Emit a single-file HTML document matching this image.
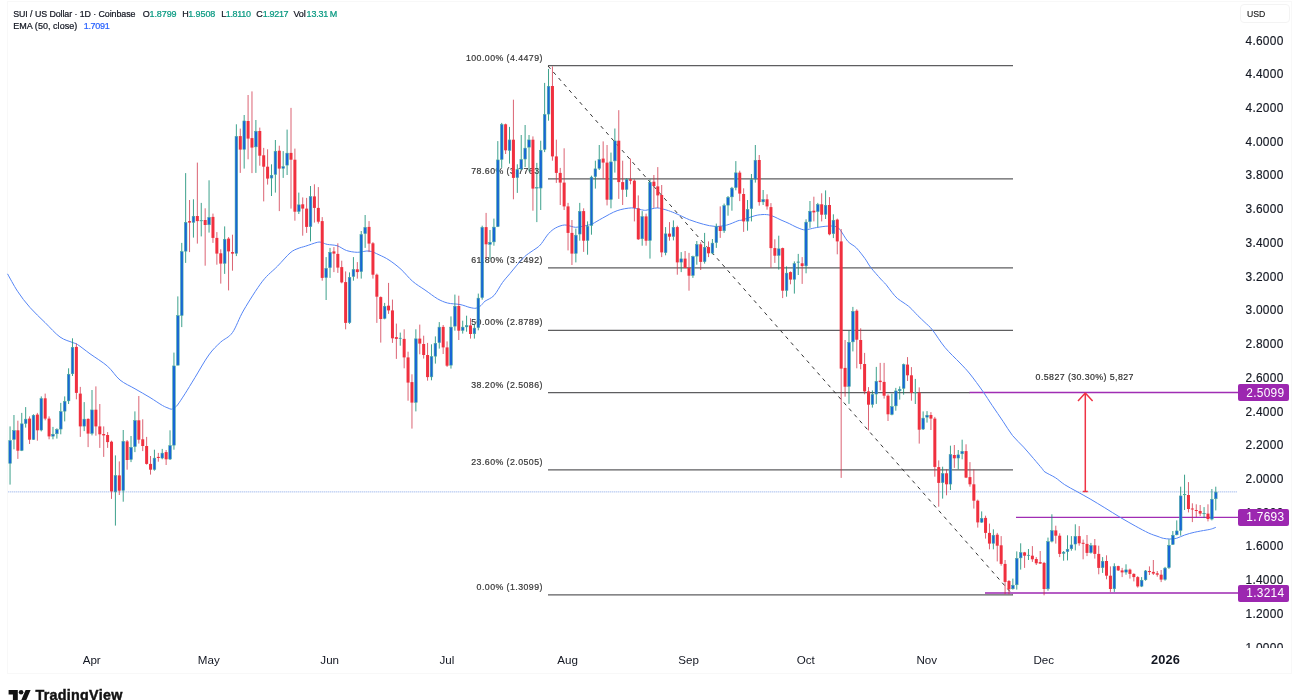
<!DOCTYPE html><html><head><meta charset="utf-8"><title>SUI / US Dollar</title>
<style>
html,body{margin:0;padding:0;background:#fff;}
body{width:1300px;height:700px;overflow:hidden;position:relative;font-family:"Liberation Sans",sans-serif;color:#131722;}
.t{position:absolute;white-space:nowrap;line-height:1;}
.frame{position:absolute;left:7px;top:1px;width:1285px;height:673px;border:1px solid #f8f8f8;box-sizing:border-box;}
.pl{position:absolute;left:1245.5px;width:38px;font-size:11.9px;line-height:14px;height:14px;text-align:left;color:#131722;white-space:nowrap;letter-spacing:0.28px;-webkit-text-stroke:0.15px #131722;}
.axis{position:absolute;left:1230px;top:2px;width:62px;height:645.6px;overflow:hidden;}
.tl{position:absolute;top:653.3px;font-size:11.6px;line-height:14px;transform:translateX(-50%);white-space:nowrap;color:#131722;}
.box{position:absolute;left:1238px;width:51px;height:17px;background:#9c27b0;border-radius:2px;color:#fff;font-size:11.9px;line-height:17px;white-space:nowrap;}
.box span{position:absolute;left:8.3px;top:0.5px;letter-spacing:0.28px;}
.hd{position:absolute;font-size:9px;line-height:10px;white-space:nowrap;color:#131722;-webkit-text-stroke:0.22px currentColor;}
.g{color:#089981;} .b{color:#2962ff;}
.fl{position:absolute;letter-spacing:0.44px;font-size:8.8px;line-height:10px;white-space:nowrap;color:#383838;-webkit-text-stroke:0.2px currentColor;}
svg{position:absolute;left:0;top:0;}
.layer{position:absolute;left:0;top:0;width:1300px;height:700px;will-change:transform;}
</style></head><body>
<div class="layer">
<div class="frame"></div>
<div class="hd " style="left:13.2px;top:8.55px;letter-spacing:-0.07px;font-size:8.85px">SUI / US Dollar &middot; 1D &middot; Coinbase</div>
<div class="hd " style="left:142.7px;top:8.55px;letter-spacing:0px">O</div>
<div class="hd g" style="left:149.6px;top:8.55px;letter-spacing:-0.12px">1.8799</div>
<div class="hd " style="left:182.3px;top:8.55px;letter-spacing:0px">H</div>
<div class="hd g" style="left:188.2px;top:8.55px;letter-spacing:-0.08px">1.9508</div>
<div class="hd " style="left:221.3px;top:8.55px;letter-spacing:0px">L</div>
<div class="hd g" style="left:225.8px;top:8.55px;letter-spacing:-0.35px">1.8110</div>
<div class="hd " style="left:256.3px;top:8.55px;letter-spacing:0px">C</div>
<div class="hd g" style="left:262.8px;top:8.55px;letter-spacing:-0.35px">1.9217</div>
<div class="hd " style="left:293.5px;top:8.55px;letter-spacing:-0.15px">Vol</div>
<div class="hd g" style="left:306.6px;top:8.55px;letter-spacing:-0.2px">13.31&#8201;M</div>
<div class="hd " style="left:13.2px;top:21.3px;letter-spacing:0.04px">EMA (50, close)</div>
<div class="hd b" style="left:83.7px;top:21.3px;letter-spacing:-0.3px">1.7091</div>
<div class="fl" style="right:757.1px;top:52.79px">100.00% (4.4479)</div>
<div class="fl" style="right:757.1px;top:166.02px">78.60% (3.7763)</div>
<div class="fl" style="right:757.1px;top:254.88px">61.80% (3.2492)</div>
<div class="fl" style="right:757.1px;top:317.31px">50.00% (2.8789)</div>
<div class="fl" style="right:757.1px;top:379.74px">38.20% (2.5086)</div>
<div class="fl" style="right:757.1px;top:456.97px">23.60% (2.0505)</div>
<div class="fl" style="right:757.1px;top:581.83px">0.00% (1.3099)</div>
</div>
<svg width="1300" height="700" viewBox="0 0 1300 700">
<line x1="548" y1="65.74" x2="1013" y2="65.74" stroke="#5e5e60" stroke-width="1.25"/>
<line x1="548" y1="178.97" x2="1013" y2="178.97" stroke="#5e5e60" stroke-width="1.25"/>
<line x1="548" y1="267.83" x2="1013" y2="267.83" stroke="#5e5e60" stroke-width="1.25"/>
<line x1="548" y1="330.26" x2="1013" y2="330.26" stroke="#5e5e60" stroke-width="1.25"/>
<line x1="548" y1="392.69" x2="970" y2="392.69" stroke="#5e5e60" stroke-width="1.25"/>
<line x1="548" y1="469.92" x2="1013" y2="469.92" stroke="#5e5e60" stroke-width="1.25"/>
<line x1="548" y1="594.78" x2="1013" y2="594.78" stroke="#5e5e60" stroke-width="1.25"/>
<line x1="548" y1="65.99" x2="1013" y2="595.03" stroke="#333" stroke-width="1" stroke-dasharray="3.7 4.3"/>
<line x1="8" y1="491.88" x2="1237" y2="491.88" stroke="#88a8ea" stroke-opacity="0.3" stroke-width="1"/>
<line x1="8" y1="491.88" x2="1237" y2="491.88" stroke="#88a8ea" stroke-opacity="0.5" stroke-width="1" stroke-dasharray="1 1"/>
<line x1="969.6" y1="392.52" x2="1238" y2="392.52" stroke="#a02db4" stroke-width="1.3"/>
<line x1="1016" y1="517.38" x2="1238" y2="517.38" stroke="#a02db4" stroke-width="1.4"/>
<line x1="985" y1="592.99" x2="1238" y2="592.99" stroke="#9c27b0" stroke-opacity="0.75" stroke-width="2.1"/>
<path d="M1085.3 491.6V393.119959M1078.0 400.91995899999995L1085.3 392.91995899999995L1092.6 400.91995899999995M1082.8 491.6H1087.8" stroke="#ee3344" stroke-width="1.5" fill="none" stroke-linejoin="bevel"/>
<path d="M7.5 273.8C9.2 276.7 13.8 285.6 17.5 291.2C21.2 296.9 25.4 302.3 30.0 307.5C34.6 312.7 40.0 317.6 45.0 322.5C50.0 327.4 55.4 333.7 60.0 337.0C64.6 340.3 69.6 341.2 72.5 342.5C75.4 343.8 74.6 342.6 77.5 344.5C80.4 346.4 85.0 350.1 90.0 353.8C95.0 357.4 102.5 361.9 107.5 366.2C112.5 370.6 115.4 376.2 120.0 380.0C124.6 383.8 130.0 385.8 135.0 388.8C140.0 391.7 145.4 394.7 150.0 397.5C154.6 400.3 159.5 403.8 162.5 405.5C165.5 407.2 166.5 407.4 168.0 408.0C169.5 408.6 170.2 409.2 171.2 409.2C172.2 409.2 173.0 408.7 174.0 408.0C175.0 407.3 175.7 407.4 177.5 405.0C179.3 402.6 182.1 398.3 185.0 393.8C187.9 389.2 191.0 384.0 195.0 377.5C199.0 371.0 204.5 360.9 208.8 355.0C213.0 349.1 216.7 345.9 220.7 342.1C224.7 338.4 228.7 337.9 232.5 332.5C236.3 327.1 238.8 318.5 243.8 310.0C248.8 301.5 256.9 288.5 262.5 281.2C268.1 274.0 272.9 271.0 277.5 266.2C282.1 261.5 286.6 256.0 290.0 253.0C293.4 250.0 295.4 249.6 298.0 248.5C300.6 247.4 302.3 247.2 305.5 246.2C308.7 245.2 314.6 242.9 317.3 242.3C320.1 241.7 320.3 242.2 322.0 242.6C323.7 242.9 324.8 243.9 327.3 244.4C329.9 244.9 334.1 244.8 337.3 245.8C340.5 246.8 343.2 249.4 346.5 250.5C349.8 251.6 353.6 252.2 357.3 252.3C361.1 252.4 365.4 250.6 369.0 251.0C372.6 251.4 375.7 253.3 379.0 254.8C382.3 256.3 385.3 257.6 389.0 260.0C392.7 262.4 397.1 265.8 401.0 269.3C404.9 272.8 408.5 277.8 412.5 281.2C416.5 284.7 420.8 287.1 425.0 290.0C429.2 292.9 433.8 296.6 437.5 298.8C441.2 300.9 443.8 302.0 447.5 303.0C451.2 304.0 456.2 303.8 460.0 304.5C463.8 305.2 467.3 306.9 470.0 307.5C472.7 308.1 474.2 308.5 476.0 308.2C477.8 307.9 479.5 306.7 481.0 305.5C482.5 304.3 482.8 302.9 485.0 301.2C487.2 299.6 491.1 298.6 494.0 295.5C496.9 292.4 499.8 286.2 502.5 282.5C505.2 278.8 506.7 277.5 510.0 273.5C513.3 269.5 519.2 262.2 522.5 258.8C525.8 255.2 527.6 254.3 530.0 252.5C532.4 250.7 535.1 249.3 537.0 247.8C538.9 246.3 539.5 246.0 541.4 243.6C543.3 241.2 546.2 236.2 548.6 233.6C551.0 231.0 553.1 229.3 555.7 227.9C558.3 226.5 561.7 225.2 564.3 225.0C566.9 224.8 569.5 226.0 571.4 226.4C573.3 226.8 573.9 227.3 575.7 227.3C577.6 227.3 580.4 226.7 582.5 226.3C584.6 225.9 586.9 225.4 588.6 225.0C590.3 224.6 590.1 224.9 592.5 223.8C594.9 222.6 598.6 220.2 602.7 218.0C606.8 215.8 612.3 212.4 617.1 210.7C621.9 209.0 627.6 208.1 631.4 207.9C635.2 207.7 637.6 209.1 640.0 209.5C642.4 209.9 643.7 210.4 645.7 210.3C647.7 210.2 650.1 209.2 652.0 208.8C653.9 208.4 655.4 207.9 657.1 207.9C658.8 207.9 660.1 208.3 662.0 208.8C663.9 209.3 666.1 209.8 668.6 210.7C671.1 211.6 673.5 212.5 677.0 214.0C680.5 215.5 685.2 218.1 689.6 219.8C694.0 221.5 699.4 223.2 703.6 224.3C707.8 225.4 711.2 226.2 715.0 226.4C718.8 226.6 722.6 226.1 726.4 225.2C730.2 224.3 735.3 221.7 737.9 220.8C740.5 219.9 739.2 220.8 742.1 220.0C745.0 219.2 751.7 216.6 755.0 215.7C758.3 214.8 760.1 214.8 762.0 214.6C763.9 214.4 765.1 214.5 766.4 214.6C767.7 214.7 768.6 214.8 770.0 215.2C771.4 215.6 773.2 216.3 775.0 217.1C776.8 217.9 778.6 218.9 781.0 220.0C783.4 221.1 786.8 222.4 789.3 223.6C791.8 224.8 793.6 226.0 796.0 227.0C798.4 228.0 801.4 229.4 803.6 229.8C805.8 230.2 806.9 229.6 809.0 229.2C811.1 228.8 813.2 228.1 816.4 227.6C819.5 227.1 824.6 226.2 827.9 226.1C831.2 225.9 834.3 225.9 836.4 226.7C838.5 227.5 838.8 228.2 840.7 230.7C842.6 233.1 845.3 238.5 847.9 241.4C850.5 244.3 853.5 245.0 856.4 247.9C859.2 250.8 862.6 255.4 865.0 258.6C867.4 261.9 868.1 264.0 870.7 267.4C873.3 270.8 878.2 276.1 880.7 279.0C883.2 281.9 884.1 282.2 886.0 284.5C887.9 286.8 890.2 290.2 892.1 292.5C894.0 294.8 895.5 296.8 897.5 298.5C899.5 300.2 901.9 301.5 904.0 303.0C906.1 304.5 907.7 305.4 910.0 307.5C912.3 309.6 915.4 313.2 917.9 315.7C920.4 318.2 922.6 320.1 925.0 322.5C927.4 324.9 929.2 325.8 932.5 330.0C935.8 334.2 940.4 342.0 945.0 347.5C949.6 353.0 955.8 358.6 960.0 363.0C964.2 367.4 966.2 369.3 970.0 374.0C973.8 378.7 979.1 386.0 982.8 391.3C986.5 396.6 988.9 400.6 992.3 405.6C995.7 410.6 999.6 416.3 1003.0 421.3C1006.4 426.3 1009.1 431.2 1012.5 435.5C1015.9 439.8 1020.1 443.2 1023.6 447.1C1027.1 451.0 1030.5 455.0 1033.6 458.6C1036.7 462.2 1040.2 466.4 1042.1 468.6C1044.0 470.8 1042.8 470.5 1045.0 472.0C1047.2 473.5 1052.1 475.6 1055.4 477.7C1058.7 479.8 1061.1 482.4 1064.7 484.7C1068.3 487.0 1072.6 489.2 1077.0 491.6C1081.4 494.1 1086.3 496.7 1090.9 499.4C1095.5 502.1 1099.8 504.8 1104.8 507.8C1109.8 510.8 1115.5 514.6 1120.6 517.6C1125.7 520.6 1130.6 523.4 1135.3 526.0C1140.0 528.6 1144.8 531.2 1148.6 533.0C1152.4 534.8 1155.5 535.6 1158.0 536.5C1160.5 537.4 1161.3 537.9 1163.3 538.3C1165.3 538.7 1167.6 539.0 1169.8 539.0C1172.0 539.0 1174.0 539.0 1176.5 538.3C1179.0 537.6 1181.7 536.0 1184.7 535.0C1187.7 534.0 1190.8 533.1 1194.3 532.3C1197.8 531.5 1203.2 530.6 1206.0 530.1C1208.8 529.6 1209.8 529.5 1211.4 529.0C1213.1 528.5 1215.2 527.6 1215.9 527.3" fill="none" stroke="#5585f5" stroke-width="1" stroke-linejoin="round"/>
<path d="M10.06 426.4V484.6M13.96 415.0V449.3M21.76 412.9V451.1M25.67 407.1V427.6M33.47 414.3V440.0M41.27 396.4V431.4M52.98 426.9V439.3M56.88 428.3V438.6M60.78 402.9V434.3M64.69 396.4V421.4M68.59 368.3V404.0M72.49 338.3V376.0M84.20 402.1V431.1M92.00 390.0V435.4M115.41 455.4V525.6M123.22 430.0V501.7M131.02 436.0V462.1M134.92 411.4V452.1M154.43 449.7V470.7M162.24 448.9V459.3M170.04 430.3V460.0M173.94 352.6V449.7M177.84 296.4V365.4M181.75 242.9V327.1M185.65 173.1V262.9M193.45 199.3V237.6M201.26 202.9V236.4M209.06 180.3V232.6M224.67 226.4V273.9M236.37 124.3V256.1M244.18 115.0V168.6M255.88 120.0V172.9M271.49 164.3V196.0M275.39 140.0V192.6M283.20 151.1V177.9M287.10 129.6V175.0M298.81 192.6V214.0M310.51 186.0V241.4M326.12 257.1V300.0M330.02 247.9V277.9M349.53 272.4V323.9M353.43 257.1V280.7M361.24 231.0V278.6M365.14 215.0V247.9M384.65 302.9V319.3M400.26 332.6V345.7M415.87 329.3V411.4M431.47 344.3V380.3M435.38 336.4V363.6M439.28 322.1V348.6M450.98 316.4V368.6M454.89 294.6V330.7M462.69 320.7V333.6M466.59 315.7V331.7M474.40 324.3V338.6M478.30 293.6V330.3M482.20 225.7V299.7M490.00 230.0V259.3M493.91 218.6V245.7M497.81 141.1V227.1M501.71 122.9V167.9M509.51 126.9V163.6M517.32 164.3V192.9M521.22 135.0V170.0M525.12 125.0V167.1M529.02 135.0V171.4M536.83 162.9V222.1M540.73 140.7V210.0M544.63 82.9V152.1M548.53 68.9V120.7M575.85 228.6V262.4M579.75 202.9V240.7M587.55 221.4V254.7M591.46 175.7V234.7M595.36 160.7V188.6M599.26 145.0V170.0M610.97 152.6V208.3M614.87 128.5V172.6M626.57 178.3V196.9M642.18 211.1V245.7M649.99 179.3V258.6M665.59 227.1V255.3M673.40 220.4V240.4M681.20 252.1V272.1M692.91 255.7V277.9M696.81 241.0V264.7M704.61 232.9V263.6M712.42 239.0V254.3M716.32 223.6V247.9M724.12 203.6V232.9M728.03 196.0V215.7M731.93 186.9V210.7M735.83 161.1V190.3M747.54 200.0V230.7M751.44 174.0V221.4M755.34 145.0V182.6M763.14 190.0V205.0M778.75 235.7V269.6M786.56 266.4V296.7M794.36 261.4V293.6M798.26 253.9V275.0M806.07 219.3V273.3M809.97 201.0V227.9M817.77 202.9V227.1M825.58 190.4V219.0M833.38 214.3V238.1M848.99 330.7V403.9M852.89 306.9V351.4M872.40 390.4V407.6M876.30 366.9V403.9M891.91 393.6V415.3M895.81 387.9V410.7M899.71 386.4V399.6M903.62 363.6V394.7M915.32 378.9V404.0M923.13 411.4V430.0M927.03 411.1V422.6M942.64 466.7V498.6M950.44 445.7V490.0M958.24 450.0V469.3M962.15 439.7V459.3M981.66 511.4V522.9M993.36 529.3V549.3M1012.87 578.6V589.6M1016.77 551.4V589.6M1020.68 543.3V569.6M1028.48 549.0V560.0M1047.99 537.6V590.7M1051.89 514.3V542.4M1063.60 551.0V560.7M1067.50 535.3V560.4M1071.40 536.1V550.7M1075.30 524.3V550.4M1090.91 542.9V553.6M1102.62 557.1V572.9M1114.32 563.3V591.9M1126.03 564.3V574.7M1141.64 577.1V587.1M1145.54 570.0V580.7M1165.05 566.9V580.7M1168.95 539.3V568.9M1172.85 531.0V545.0M1176.76 520.4V535.3M1180.66 486.7V535.7M1184.56 474.7V510.0M1204.07 507.1V518.1M1211.87 489.0V520.4M1215.78 486.7V510.4" stroke="#128c73" stroke-opacity="0.82" stroke-width="1" fill="none"/>
<path d="M17.86 420.7V458.9M29.57 416.4V444.0M37.37 412.9V440.7M45.18 393.6V420.3M49.08 416.4V439.3M76.39 343.6V399.3M80.29 386.9V436.9M88.10 418.3V447.1M95.90 386.4V435.7M99.80 404.0V447.9M103.71 426.4V456.9M107.61 432.1V447.9M111.51 440.7V498.9M119.31 461.4V495.0M127.12 440.0V469.7M138.82 396.0V443.6M142.73 419.3V451.1M146.63 436.9V464.6M150.53 456.0V474.6M158.33 452.9V461.7M166.14 450.0V465.0M189.55 200.0V252.1M197.35 162.6V243.6M205.16 208.3V265.7M212.96 213.6V242.9M216.86 232.1V264.7M220.77 249.3V283.6M228.57 237.1V290.4M232.47 234.7V270.7M240.28 128.6V172.9M248.08 95.0V159.3M251.98 91.4V173.1M259.79 127.6V165.7M263.69 147.9V201.4M267.59 149.3V184.6M279.30 145.7V211.1M291.00 107.9V208.6M294.90 148.6V220.7M302.71 197.4V235.7M306.61 197.9V232.9M314.41 184.3V222.6M318.32 187.1V223.6M322.22 217.1V280.7M333.92 247.1V272.1M337.83 243.3V272.9M341.73 260.7V283.3M345.63 271.4V329.3M357.34 262.1V278.6M369.04 221.1V252.1M372.94 242.1V278.6M376.85 273.6V322.9M380.75 296.4V342.6M388.55 282.9V313.9M392.45 299.6V342.9M396.36 323.6V358.9M404.16 329.3V368.3M408.06 351.7V400.7M411.96 374.3V428.6M419.77 324.6V354.3M423.67 335.7V358.6M427.57 342.9V380.7M443.18 325.0V354.0M447.08 341.4V366.9M458.79 295.7V340.0M470.49 318.3V338.6M486.10 212.9V258.6M505.61 123.6V154.0M513.42 99.7V199.3M532.93 136.4V210.7M552.44 66.4V160.7M556.34 139.7V182.9M560.24 167.9V205.0M564.14 148.3V210.0M568.04 202.9V250.4M571.95 220.0V265.0M583.65 208.3V251.9M603.16 141.4V178.6M607.06 145.0V205.4M618.77 110.2V198.9M622.67 160.7V205.0M630.48 158.6V184.3M634.38 179.3V221.4M638.28 195.4V240.0M646.08 213.6V245.7M653.89 175.0V207.9M657.79 167.1V207.9M661.69 185.0V257.1M669.50 222.1V240.7M677.30 225.7V274.7M685.10 251.0V268.1M689.01 252.9V290.7M700.71 242.1V270.0M708.52 241.4V257.1M720.22 206.4V237.9M739.73 170.7V201.1M743.63 188.3V231.9M759.24 155.0V205.7M767.05 194.3V209.7M770.95 203.1V267.6M774.85 239.3V262.9M782.65 247.6V298.1M790.46 271.4V284.3M802.16 257.1V283.9M813.87 196.7V221.4M821.67 193.3V221.4M829.48 197.1V235.3M837.28 218.6V254.3M841.18 229.0V477.9M845.09 340.0V396.7M856.79 309.3V368.3M860.69 328.3V369.3M864.60 352.9V394.3M868.50 387.1V430.4M880.20 362.9V390.4M884.11 362.9V398.6M888.01 394.3V421.0M907.52 357.1V381.0M911.42 367.1V400.7M919.22 387.4V443.6M930.93 412.1V430.0M934.83 416.9V476.7M938.73 460.4V506.7M946.54 469.3V495.3M954.34 445.0V467.9M966.05 444.3V478.1M969.95 462.1V486.7M973.85 469.3V508.6M977.75 499.6V527.6M985.56 515.7V538.6M989.46 523.6V549.3M997.26 532.9V561.4M1001.17 536.1V565.7M1005.07 560.0V594.3M1008.97 580.0V594.3M1024.58 551.9V567.9M1032.38 546.1V561.9M1036.28 557.1V565.0M1040.19 551.0V563.9M1044.09 561.9V595.3M1055.79 525.7V543.6M1059.70 533.3V557.1M1079.21 526.1V545.7M1083.11 539.6V559.3M1087.01 535.0V556.1M1094.81 539.0V558.6M1098.72 545.7V574.3M1106.52 555.3V579.3M1110.42 566.4V591.9M1118.23 565.7V571.0M1122.13 567.9V577.1M1129.93 568.6V578.6M1133.83 573.3V581.4M1137.74 576.1V587.6M1149.44 566.4V575.0M1153.34 560.0V575.0M1157.25 571.0V576.7M1161.15 570.0V582.1M1188.46 482.1V512.4M1192.36 503.3V522.1M1196.27 504.3V517.1M1200.17 505.0V516.1M1207.97 504.3V521.4" stroke="#cf2d42" stroke-opacity="0.74" stroke-width="1" fill="none"/>
<g fill="#1766d6" stroke="#4fae9f" stroke-width="0.55"><rect x="8.76" y="440.55" width="2.65" height="22.80"/><rect x="12.66" y="430.55" width="2.65" height="8.90"/><rect x="20.46" y="423.85" width="2.65" height="26.60"/><rect x="24.37" y="419.15" width="2.65" height="4.40"/><rect x="32.17" y="415.25" width="2.65" height="24.20"/><rect x="39.97" y="398.55" width="2.65" height="31.50"/><rect x="51.68" y="434.25" width="2.65" height="1.90"/><rect x="55.58" y="429.55" width="2.65" height="4.20"/><rect x="59.48" y="411.65" width="2.65" height="17.40"/><rect x="63.39" y="401.35" width="2.65" height="9.80"/><rect x="67.29" y="374.25" width="2.65" height="26.60"/><rect x="71.19" y="347.35" width="2.65" height="26.40"/><rect x="82.90" y="419.15" width="2.65" height="7.00"/><rect x="90.70" y="409.95" width="2.65" height="23.40"/><rect x="114.11" y="475.65" width="2.65" height="16.20"/><rect x="121.92" y="441.35" width="2.65" height="49.10"/><rect x="129.72" y="447.35" width="2.65" height="12.10"/><rect x="133.62" y="420.55" width="2.65" height="26.10"/><rect x="153.13" y="458.15" width="2.65" height="11.30"/><rect x="160.94" y="453.15" width="2.65" height="4.90"/><rect x="168.74" y="445.65" width="2.65" height="13.40"/><rect x="172.64" y="365.95" width="2.65" height="79.20"/><rect x="176.54" y="315.65" width="2.65" height="49.50"/><rect x="180.45" y="251.65" width="2.65" height="63.80"/><rect x="184.35" y="222.35" width="2.65" height="28.80"/><rect x="192.15" y="216.25" width="2.65" height="6.10"/><rect x="199.96" y="220.45" width="2.65" height="0.50"/><rect x="207.76" y="217.35" width="2.65" height="7.40"/><rect x="223.37" y="239.25" width="2.65" height="24.10"/><rect x="235.07" y="136.35" width="2.65" height="117.00"/><rect x="242.88" y="120.95" width="2.65" height="28.40"/><rect x="254.58" y="131.25" width="2.65" height="15.60"/><rect x="270.19" y="175.25" width="2.65" height="2.80"/><rect x="274.09" y="151.25" width="2.65" height="23.10"/><rect x="281.90" y="166.65" width="2.65" height="1.70"/><rect x="285.80" y="153.15" width="2.65" height="12.00"/><rect x="297.51" y="204.85" width="2.65" height="6.60"/><rect x="309.21" y="196.65" width="2.65" height="30.00"/><rect x="324.82" y="268.35" width="2.65" height="9.30"/><rect x="328.72" y="252.35" width="2.65" height="15.30"/><rect x="348.23" y="277.35" width="2.65" height="45.30"/><rect x="352.13" y="269.55" width="2.65" height="6.90"/><rect x="359.94" y="234.55" width="2.65" height="37.10"/><rect x="363.84" y="227.35" width="2.65" height="6.30"/><rect x="383.35" y="306.35" width="2.65" height="12.00"/><rect x="398.96" y="338.15" width="2.65" height="0.50"/><rect x="414.57" y="338.85" width="2.65" height="63.50"/><rect x="430.17" y="356.65" width="2.65" height="20.20"/><rect x="434.08" y="343.35" width="2.65" height="12.80"/><rect x="437.98" y="327.15" width="2.65" height="15.50"/><rect x="449.68" y="327.15" width="2.65" height="38.00"/><rect x="453.59" y="306.25" width="2.65" height="19.90"/><rect x="461.39" y="327.15" width="2.65" height="3.30"/><rect x="465.29" y="325.65" width="2.65" height="1.20"/><rect x="473.10" y="328.15" width="2.65" height="5.60"/><rect x="477.00" y="298.15" width="2.65" height="29.50"/><rect x="480.90" y="227.35" width="2.65" height="70.30"/><rect x="488.70" y="242.35" width="2.65" height="2.00"/><rect x="492.61" y="227.15" width="2.65" height="14.70"/><rect x="496.51" y="159.95" width="2.65" height="66.70"/><rect x="500.41" y="124.55" width="2.65" height="34.90"/><rect x="508.21" y="139.95" width="2.65" height="10.50"/><rect x="516.02" y="169.55" width="2.65" height="8.10"/><rect x="519.92" y="159.55" width="2.65" height="9.50"/><rect x="523.82" y="148.15" width="2.65" height="10.90"/><rect x="527.72" y="139.95" width="2.65" height="7.20"/><rect x="535.53" y="187.60" width="2.65" height="0.50"/><rect x="539.43" y="150.25" width="2.65" height="37.80"/><rect x="543.33" y="114.55" width="2.65" height="34.90"/><rect x="547.23" y="86.25" width="2.65" height="27.80"/><rect x="574.55" y="235.25" width="2.65" height="18.10"/><rect x="578.45" y="211.35" width="2.65" height="22.70"/><rect x="586.25" y="226.35" width="2.65" height="14.10"/><rect x="590.16" y="177.15" width="2.65" height="48.30"/><rect x="594.06" y="168.85" width="2.65" height="7.80"/><rect x="597.96" y="159.55" width="2.65" height="8.80"/><rect x="609.67" y="161.95" width="2.65" height="37.50"/><rect x="613.57" y="140.95" width="2.65" height="19.90"/><rect x="625.27" y="179.55" width="2.65" height="9.90"/><rect x="640.88" y="216.65" width="2.65" height="22.10"/><rect x="648.69" y="182.35" width="2.65" height="58.10"/><rect x="664.29" y="233.85" width="2.65" height="18.80"/><rect x="672.10" y="227.35" width="2.65" height="9.10"/><rect x="679.90" y="258.85" width="2.65" height="3.30"/><rect x="691.61" y="256.65" width="2.65" height="18.80"/><rect x="695.51" y="244.55" width="2.65" height="11.60"/><rect x="703.31" y="247.35" width="2.65" height="14.30"/><rect x="711.12" y="243.15" width="2.65" height="9.90"/><rect x="715.02" y="226.65" width="2.65" height="16.00"/><rect x="722.82" y="205.65" width="2.65" height="25.10"/><rect x="726.73" y="197.35" width="2.65" height="7.80"/><rect x="730.63" y="188.15" width="2.65" height="8.70"/><rect x="734.53" y="172.85" width="2.65" height="14.80"/><rect x="746.24" y="209.55" width="2.65" height="11.60"/><rect x="750.14" y="179.55" width="2.65" height="29.10"/><rect x="754.04" y="160.25" width="2.65" height="18.80"/><rect x="761.84" y="199.55" width="2.65" height="2.30"/><rect x="777.45" y="248.85" width="2.65" height="6.60"/><rect x="785.26" y="273.15" width="2.65" height="17.30"/><rect x="793.06" y="263.55" width="2.65" height="15.80"/><rect x="796.96" y="261.90" width="2.65" height="0.50"/><rect x="804.77" y="222.15" width="2.65" height="43.70"/><rect x="808.67" y="211.25" width="2.65" height="10.40"/><rect x="816.47" y="204.55" width="2.65" height="7.10"/><rect x="824.28" y="205.25" width="2.65" height="9.20"/><rect x="832.08" y="220.25" width="2.65" height="13.40"/><rect x="847.69" y="342.35" width="2.65" height="44.10"/><rect x="851.59" y="311.35" width="2.65" height="30.50"/><rect x="871.10" y="394.55" width="2.65" height="9.90"/><rect x="875.00" y="381.25" width="2.65" height="12.80"/><rect x="890.61" y="406.65" width="2.65" height="7.80"/><rect x="894.51" y="390.95" width="2.65" height="14.90"/><rect x="898.41" y="389.25" width="2.65" height="1.50"/><rect x="902.32" y="364.55" width="2.65" height="23.80"/><rect x="914.02" y="392.35" width="2.65" height="0.50"/><rect x="921.83" y="418.15" width="2.65" height="10.90"/><rect x="925.73" y="415.25" width="2.65" height="1.90"/><rect x="941.34" y="473.55" width="2.65" height="9.10"/><rect x="949.14" y="454.55" width="2.65" height="29.50"/><rect x="956.94" y="454.85" width="2.65" height="3.20"/><rect x="960.85" y="451.35" width="2.65" height="2.40"/><rect x="980.36" y="518.35" width="2.65" height="3.80"/><rect x="992.06" y="535.25" width="2.65" height="8.10"/><rect x="1011.57" y="585.25" width="2.65" height="3.50"/><rect x="1015.47" y="558.35" width="2.65" height="26.40"/><rect x="1019.38" y="552.65" width="2.65" height="5.20"/><rect x="1027.18" y="555.20" width="2.65" height="0.50"/><rect x="1046.69" y="541.65" width="2.65" height="47.10"/><rect x="1050.59" y="530.65" width="2.65" height="10.50"/><rect x="1062.30" y="552.15" width="2.65" height="1.20"/><rect x="1066.20" y="549.25" width="2.65" height="2.40"/><rect x="1070.10" y="544.95" width="2.65" height="3.80"/><rect x="1074.00" y="536.35" width="2.65" height="7.70"/><rect x="1089.61" y="545.55" width="2.65" height="7.10"/><rect x="1101.32" y="561.25" width="2.65" height="6.40"/><rect x="1113.02" y="566.35" width="2.65" height="22.40"/><rect x="1124.73" y="569.85" width="2.65" height="2.30"/><rect x="1140.34" y="580.25" width="2.65" height="5.90"/><rect x="1144.24" y="570.95" width="2.65" height="8.80"/><rect x="1163.75" y="568.15" width="2.65" height="11.30"/><rect x="1167.65" y="545.25" width="2.65" height="22.40"/><rect x="1171.55" y="535.25" width="2.65" height="9.20"/><rect x="1175.46" y="530.95" width="2.65" height="3.80"/><rect x="1179.36" y="495.95" width="2.65" height="34.50"/><rect x="1183.26" y="494.30" width="2.65" height="0.50"/><rect x="1202.77" y="513.30" width="2.65" height="0.50"/><rect x="1210.57" y="499.25" width="2.65" height="19.80"/><rect x="1214.48" y="492.15" width="2.65" height="6.60"/></g>
<g fill="#f0303f"><rect x="16.36" y="430.30" width="3" height="20.40"/><rect x="28.07" y="418.60" width="3" height="21.10"/><rect x="35.87" y="414.60" width="3" height="15.70"/><rect x="43.68" y="398.30" width="3" height="20.30"/><rect x="47.58" y="418.60" width="3" height="17.80"/><rect x="74.89" y="346.90" width="3" height="46.00"/><rect x="78.79" y="393.60" width="3" height="32.80"/><rect x="86.60" y="418.90" width="3" height="14.70"/><rect x="94.40" y="409.70" width="3" height="16.70"/><rect x="98.30" y="426.40" width="3" height="7.90"/><rect x="102.21" y="434.00" width="3" height="1.40"/><rect x="106.11" y="435.00" width="3" height="7.10"/><rect x="110.01" y="441.70" width="3" height="49.70"/><rect x="117.81" y="475.40" width="3" height="15.30"/><rect x="125.62" y="441.40" width="3" height="18.60"/><rect x="137.32" y="420.30" width="3" height="19.40"/><rect x="141.23" y="439.30" width="3" height="6.70"/><rect x="145.13" y="446.00" width="3" height="17.90"/><rect x="149.03" y="463.90" width="3" height="5.80"/><rect x="156.83" y="456.90" width="3" height="1.10"/><rect x="164.64" y="452.10" width="3" height="7.20"/><rect x="188.05" y="221.10" width="3" height="1.50"/><rect x="195.85" y="216.00" width="3" height="5.10"/><rect x="203.66" y="220.00" width="3" height="5.00"/><rect x="211.46" y="216.90" width="3" height="21.00"/><rect x="215.36" y="237.90" width="3" height="15.70"/><rect x="219.27" y="253.30" width="3" height="10.30"/><rect x="227.07" y="238.60" width="3" height="12.80"/><rect x="230.97" y="252.10" width="3" height="1.50"/><rect x="238.78" y="136.10" width="3" height="13.50"/><rect x="246.58" y="121.00" width="3" height="17.60"/><rect x="250.48" y="138.10" width="3" height="9.50"/><rect x="258.29" y="131.00" width="3" height="24.70"/><rect x="262.19" y="155.30" width="3" height="11.40"/><rect x="266.09" y="166.70" width="3" height="11.90"/><rect x="277.80" y="150.70" width="3" height="17.90"/><rect x="289.50" y="152.90" width="3" height="6.80"/><rect x="293.40" y="159.70" width="3" height="52.00"/><rect x="301.21" y="204.30" width="3" height="4.30"/><rect x="305.11" y="208.60" width="3" height="18.30"/><rect x="312.91" y="196.40" width="3" height="11.50"/><rect x="316.82" y="207.90" width="3" height="13.80"/><rect x="320.72" y="221.10" width="3" height="56.80"/><rect x="332.42" y="251.40" width="3" height="2.20"/><rect x="336.33" y="253.90" width="3" height="13.70"/><rect x="340.23" y="267.10" width="3" height="15.30"/><rect x="344.13" y="282.10" width="3" height="40.80"/><rect x="355.84" y="269.30" width="3" height="2.80"/><rect x="367.54" y="226.90" width="3" height="16.70"/><rect x="371.44" y="243.30" width="3" height="31.40"/><rect x="375.35" y="274.70" width="3" height="22.00"/><rect x="379.25" y="297.10" width="3" height="21.90"/><rect x="387.05" y="305.70" width="3" height="4.70"/><rect x="390.95" y="310.40" width="3" height="27.90"/><rect x="394.86" y="337.10" width="3" height="1.80"/><rect x="402.66" y="338.90" width="3" height="18.50"/><rect x="406.56" y="357.40" width="3" height="25.20"/><rect x="410.46" y="382.10" width="3" height="20.50"/><rect x="418.27" y="338.60" width="3" height="5.00"/><rect x="422.17" y="344.00" width="3" height="11.00"/><rect x="426.07" y="355.00" width="3" height="22.10"/><rect x="441.68" y="326.90" width="3" height="20.50"/><rect x="445.58" y="347.40" width="3" height="18.30"/><rect x="457.29" y="306.00" width="3" height="24.70"/><rect x="468.99" y="325.40" width="3" height="8.60"/><rect x="484.60" y="227.10" width="3" height="17.20"/><rect x="504.11" y="124.30" width="3" height="26.00"/><rect x="511.92" y="139.70" width="3" height="38.20"/><rect x="531.43" y="139.70" width="3" height="48.90"/><rect x="550.94" y="86.00" width="3" height="70.40"/><rect x="554.84" y="156.40" width="3" height="16.50"/><rect x="558.74" y="172.90" width="3" height="9.70"/><rect x="562.64" y="182.60" width="3" height="23.80"/><rect x="566.54" y="206.40" width="3" height="26.50"/><rect x="570.45" y="232.90" width="3" height="20.70"/><rect x="582.15" y="211.10" width="3" height="29.60"/><rect x="601.66" y="158.60" width="3" height="4.00"/><rect x="605.56" y="162.60" width="3" height="37.10"/><rect x="617.27" y="140.70" width="3" height="41.40"/><rect x="621.17" y="182.10" width="3" height="7.60"/><rect x="628.98" y="179.30" width="3" height="1.40"/><rect x="632.88" y="180.70" width="3" height="27.20"/><rect x="636.78" y="208.30" width="3" height="31.00"/><rect x="644.58" y="216.40" width="3" height="24.30"/><rect x="652.39" y="181.70" width="3" height="4.30"/><rect x="656.29" y="186.40" width="3" height="9.00"/><rect x="660.19" y="195.00" width="3" height="57.40"/><rect x="668.00" y="233.60" width="3" height="3.10"/><rect x="675.80" y="227.10" width="3" height="35.30"/><rect x="683.60" y="258.60" width="3" height="9.30"/><rect x="687.51" y="267.90" width="3" height="7.80"/><rect x="699.21" y="244.30" width="3" height="17.60"/><rect x="707.02" y="247.10" width="3" height="6.20"/><rect x="718.72" y="226.40" width="3" height="4.60"/><rect x="738.23" y="172.60" width="3" height="21.00"/><rect x="742.13" y="194.00" width="3" height="27.40"/><rect x="757.74" y="160.00" width="3" height="42.10"/><rect x="765.55" y="199.30" width="3" height="7.10"/><rect x="769.45" y="207.10" width="3" height="41.00"/><rect x="773.35" y="248.10" width="3" height="7.60"/><rect x="781.15" y="248.10" width="3" height="42.60"/><rect x="788.96" y="272.10" width="3" height="7.50"/><rect x="800.66" y="263.30" width="3" height="2.80"/><rect x="812.37" y="210.70" width="3" height="1.70"/><rect x="820.17" y="204.30" width="3" height="10.40"/><rect x="827.98" y="205.00" width="3" height="29.30"/><rect x="835.78" y="219.60" width="3" height="21.80"/><rect x="839.68" y="241.40" width="3" height="127.20"/><rect x="843.59" y="367.90" width="3" height="18.80"/><rect x="855.29" y="310.70" width="3" height="29.00"/><rect x="859.19" y="340.00" width="3" height="24.00"/><rect x="863.10" y="364.00" width="3" height="27.40"/><rect x="867.00" y="391.40" width="3" height="13.30"/><rect x="878.70" y="380.70" width="3" height="1.40"/><rect x="882.61" y="381.90" width="3" height="13.80"/><rect x="886.51" y="395.70" width="3" height="18.60"/><rect x="906.02" y="364.60" width="3" height="10.70"/><rect x="909.92" y="375.30" width="3" height="17.60"/><rect x="917.72" y="392.60" width="3" height="37.10"/><rect x="929.43" y="415.00" width="3" height="3.60"/><rect x="933.33" y="418.60" width="3" height="48.30"/><rect x="937.23" y="467.10" width="3" height="15.80"/><rect x="945.04" y="473.30" width="3" height="11.00"/><rect x="952.84" y="455.00" width="3" height="3.30"/><rect x="964.55" y="451.10" width="3" height="26.50"/><rect x="968.45" y="477.10" width="3" height="7.20"/><rect x="972.35" y="484.30" width="3" height="16.40"/><rect x="976.25" y="500.70" width="3" height="21.70"/><rect x="984.06" y="517.90" width="3" height="15.00"/><rect x="987.96" y="532.90" width="3" height="10.70"/><rect x="995.76" y="534.70" width="3" height="11.00"/><rect x="999.67" y="545.30" width="3" height="18.60"/><rect x="1003.57" y="563.90" width="3" height="18.00"/><rect x="1007.47" y="581.00" width="3" height="8.30"/><rect x="1023.08" y="552.40" width="3" height="3.30"/><rect x="1030.88" y="555.70" width="3" height="3.60"/><rect x="1034.78" y="559.00" width="3" height="4.30"/><rect x="1038.69" y="562.10" width="3" height="1.50"/><rect x="1042.59" y="562.90" width="3" height="26.10"/><rect x="1054.29" y="530.40" width="3" height="5.30"/><rect x="1058.20" y="535.70" width="3" height="18.20"/><rect x="1077.71" y="536.10" width="3" height="7.20"/><rect x="1081.61" y="542.80" width="3" height="1.00"/><rect x="1085.51" y="543.90" width="3" height="9.00"/><rect x="1093.31" y="545.30" width="3" height="8.60"/><rect x="1097.22" y="553.90" width="3" height="14.00"/><rect x="1105.02" y="561.00" width="3" height="14.70"/><rect x="1108.92" y="575.70" width="3" height="13.30"/><rect x="1116.73" y="566.10" width="3" height="4.30"/><rect x="1120.63" y="570.40" width="3" height="2.00"/><rect x="1128.43" y="569.60" width="3" height="4.30"/><rect x="1132.33" y="573.90" width="3" height="3.20"/><rect x="1136.24" y="577.10" width="3" height="9.30"/><rect x="1147.94" y="571.00" width="3" height="1.10"/><rect x="1151.84" y="571.90" width="3" height="1.70"/><rect x="1155.75" y="573.30" width="3" height="1.40"/><rect x="1159.65" y="574.70" width="3" height="4.90"/><rect x="1186.96" y="495.00" width="3" height="14.00"/><rect x="1190.86" y="508.50" width="3" height="1.00"/><rect x="1194.77" y="510.00" width="3" height="1.00"/><rect x="1198.67" y="511.00" width="3" height="2.60"/><rect x="1206.47" y="513.60" width="3" height="5.40"/></g>
</svg>
<div class="layer">
<div class="fl" style="left:1035.6px;top:372.25px;color:#333;letter-spacing:0.42px">0.5827 (30.30%) 5,827</div>
<div class="axis">
<div class="pl" style="left:15.5px;top:31.60px">4.6000</div>
<div class="pl" style="left:15.5px;top:65.32px">4.4000</div>
<div class="pl" style="left:15.5px;top:99.04px">4.2000</div>
<div class="pl" style="left:15.5px;top:132.75px">4.0000</div>
<div class="pl" style="left:15.5px;top:166.47px">3.8000</div>
<div class="pl" style="left:15.5px;top:200.19px">3.6000</div>
<div class="pl" style="left:15.5px;top:233.91px">3.4000</div>
<div class="pl" style="left:15.5px;top:267.63px">3.2000</div>
<div class="pl" style="left:15.5px;top:301.34px">3.0000</div>
<div class="pl" style="left:15.5px;top:335.06px">2.8000</div>
<div class="pl" style="left:15.5px;top:368.78px">2.6000</div>
<div class="pl" style="left:15.5px;top:402.50px">2.4000</div>
<div class="pl" style="left:15.5px;top:436.22px">2.2000</div>
<div class="pl" style="left:15.5px;top:469.93px">2.0000</div>
<div class="pl" style="left:15.5px;top:503.65px">1.8000</div>
<div class="pl" style="left:15.5px;top:537.37px">1.6000</div>
<div class="pl" style="left:15.5px;top:571.09px">1.4000</div>
<div class="pl" style="left:15.5px;top:604.81px">1.2000</div>
<div class="pl" style="left:15.5px;top:638.52px">1.0000</div>
</div>
<div style="position:absolute;left:1240px;top:4px;width:49.5px;height:19px;border:1px solid #f3f3f3;border-radius:4px;box-sizing:border-box"></div>
<div class="t" style="left:1247px;top:9.6px;font-size:8.7px;color:#222;-webkit-text-stroke:0.15px #222">USD</div>
<div class="box" style="top:384.02px"><span>2.5099</span></div>
<div class="box" style="top:508.88px"><span>1.7693</span></div>
<div class="box" style="top:584.84px"><span>1.3214</span></div>
<div class="tl" style="left:91.7px">Apr</div>
<div class="tl" style="left:208.8px">May</div>
<div class="tl" style="left:329.7px">Jun</div>
<div class="tl" style="left:446.8px">Jul</div>
<div class="tl" style="left:567.7px">Aug</div>
<div class="tl" style="left:688.7px">Sep</div>
<div class="tl" style="left:805.8px">Oct</div>
<div class="tl" style="left:926.7px">Nov</div>
<div class="tl" style="left:1043.8px">Dec</div>
<div class="tl" style="left:1165.6px;font-weight:bold;font-size:12.8px;margin-top:0.1px;letter-spacing:0.15px">2026</div>
<svg width="1300" height="700" viewBox="0 0 1300 700">
<g fill="#131313">
<path d="M8.6 690H17.8V701H12.9V694.6H8.6Z"/>
<circle cx="21.1" cy="692.3" r="2.3"/>
<path d="M25.6 690H30.6L25.9 701H20.9Z"/>
</g></svg>
<div class="t" style="left:35.4px;top:688.2px;font-size:14.3px;font-weight:bold;color:#131313;letter-spacing:0.3px;-webkit-text-stroke:0.45px #131313">TradingView</div>
</div>
</body></html>
